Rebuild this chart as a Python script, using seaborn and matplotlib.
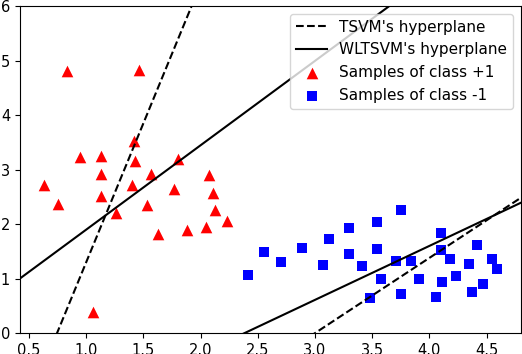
import numpy as np
import pandas as pd
import matplotlib
matplotlib.use("Agg")
import matplotlib.pyplot as plt
import seaborn as sns

plt.rcParams["font.family"] = "DejaVu Sans"

# class +1 samples
pos_x = [0.63, 0.75, 0.83, 0.95, 1.06, 1.13, 1.13, 1.13, 1.26, 1.40, 1.42, 1.43,
         1.46, 1.53, 1.57, 1.63, 1.77, 1.80, 1.88, 2.05, 2.07, 2.11, 2.13, 2.23]
pos_y = [2.71, 2.36, 4.80, 3.23, 0.39, 3.24, 2.91, 2.52, 2.20, 2.71, 3.53, 3.15,
         4.82, 2.35, 2.91, 1.82, 2.64, 3.19, 1.90, 1.95, 2.90, 2.57, 2.25, 2.05]

# class -1 samples
neg_x = [2.41, 2.55, 2.70, 2.89, 3.07, 3.12, 3.30, 3.30, 3.41, 3.54, 3.54, 3.48,
         3.58, 3.71, 3.75, 3.75, 3.84, 3.91, 4.06, 4.10, 4.10, 4.11, 4.18, 4.23,
         4.35, 4.37, 4.42, 4.47, 4.55, 4.59]
neg_y = [1.07, 1.49, 1.30, 1.57, 1.25, 1.72, 1.92, 1.45, 1.24, 2.04, 1.55, 0.65,
         0.99, 1.32, 2.26, 0.71, 1.32, 1.00, 0.67, 1.83, 1.52, 0.93, 1.36, 1.04,
         1.26, 0.76, 1.61, 0.91, 1.36, 1.18]

# hyperplanes y = k*x + b
tsvm_k = [5.10, 1.38]
tsvm_b = [-3.80, -4.14]
wltsvm_k = [1.548, 0.99]
wltsvm_b = [0.35, -2.36]

xlim = (0.42, 4.8)
xs = np.linspace(xlim[0], xlim[1], 400)

fig = plt.figure(figsize=(5.22, 3.54), dpi=100)
ax = fig.add_axes([0.038, 0.059, 0.96, 0.924])

for i, (k, b) in enumerate(zip(tsvm_k, tsvm_b)):
    sns.lineplot(x=xs, y=k * xs + b, color="black", linestyle="--", linewidth=1.5,
                 label="TSVM's hyperplane" if i == 0 else None, ax=ax)
for i, (k, b) in enumerate(zip(wltsvm_k, wltsvm_b)):
    sns.lineplot(x=xs, y=k * xs + b, color="black", linestyle="-", linewidth=1.5,
                 label="WLTSVM's hyperplane" if i == 0 else None, ax=ax)

sns.scatterplot(x=pos_x, y=pos_y, marker="^", color="red", s=70, linewidth=0,
                label="Samples of class +1", ax=ax)
sns.scatterplot(x=neg_x, y=neg_y, marker="s", color="blue", s=60, linewidth=0,
                label="Samples of class -1", ax=ax)

ax.set_xlim(*xlim)
ax.set_ylim(0, 6)
ax.set_xticks(np.arange(0.5, 4.51, 0.5))
ax.set_yticks(range(0, 7))
ax.tick_params(labelsize=10.5)
ax.legend(loc="upper right", fontsize=11, labelspacing=0.5, borderpad=0.4)

fig.savefig("out.png", dpi=100)
